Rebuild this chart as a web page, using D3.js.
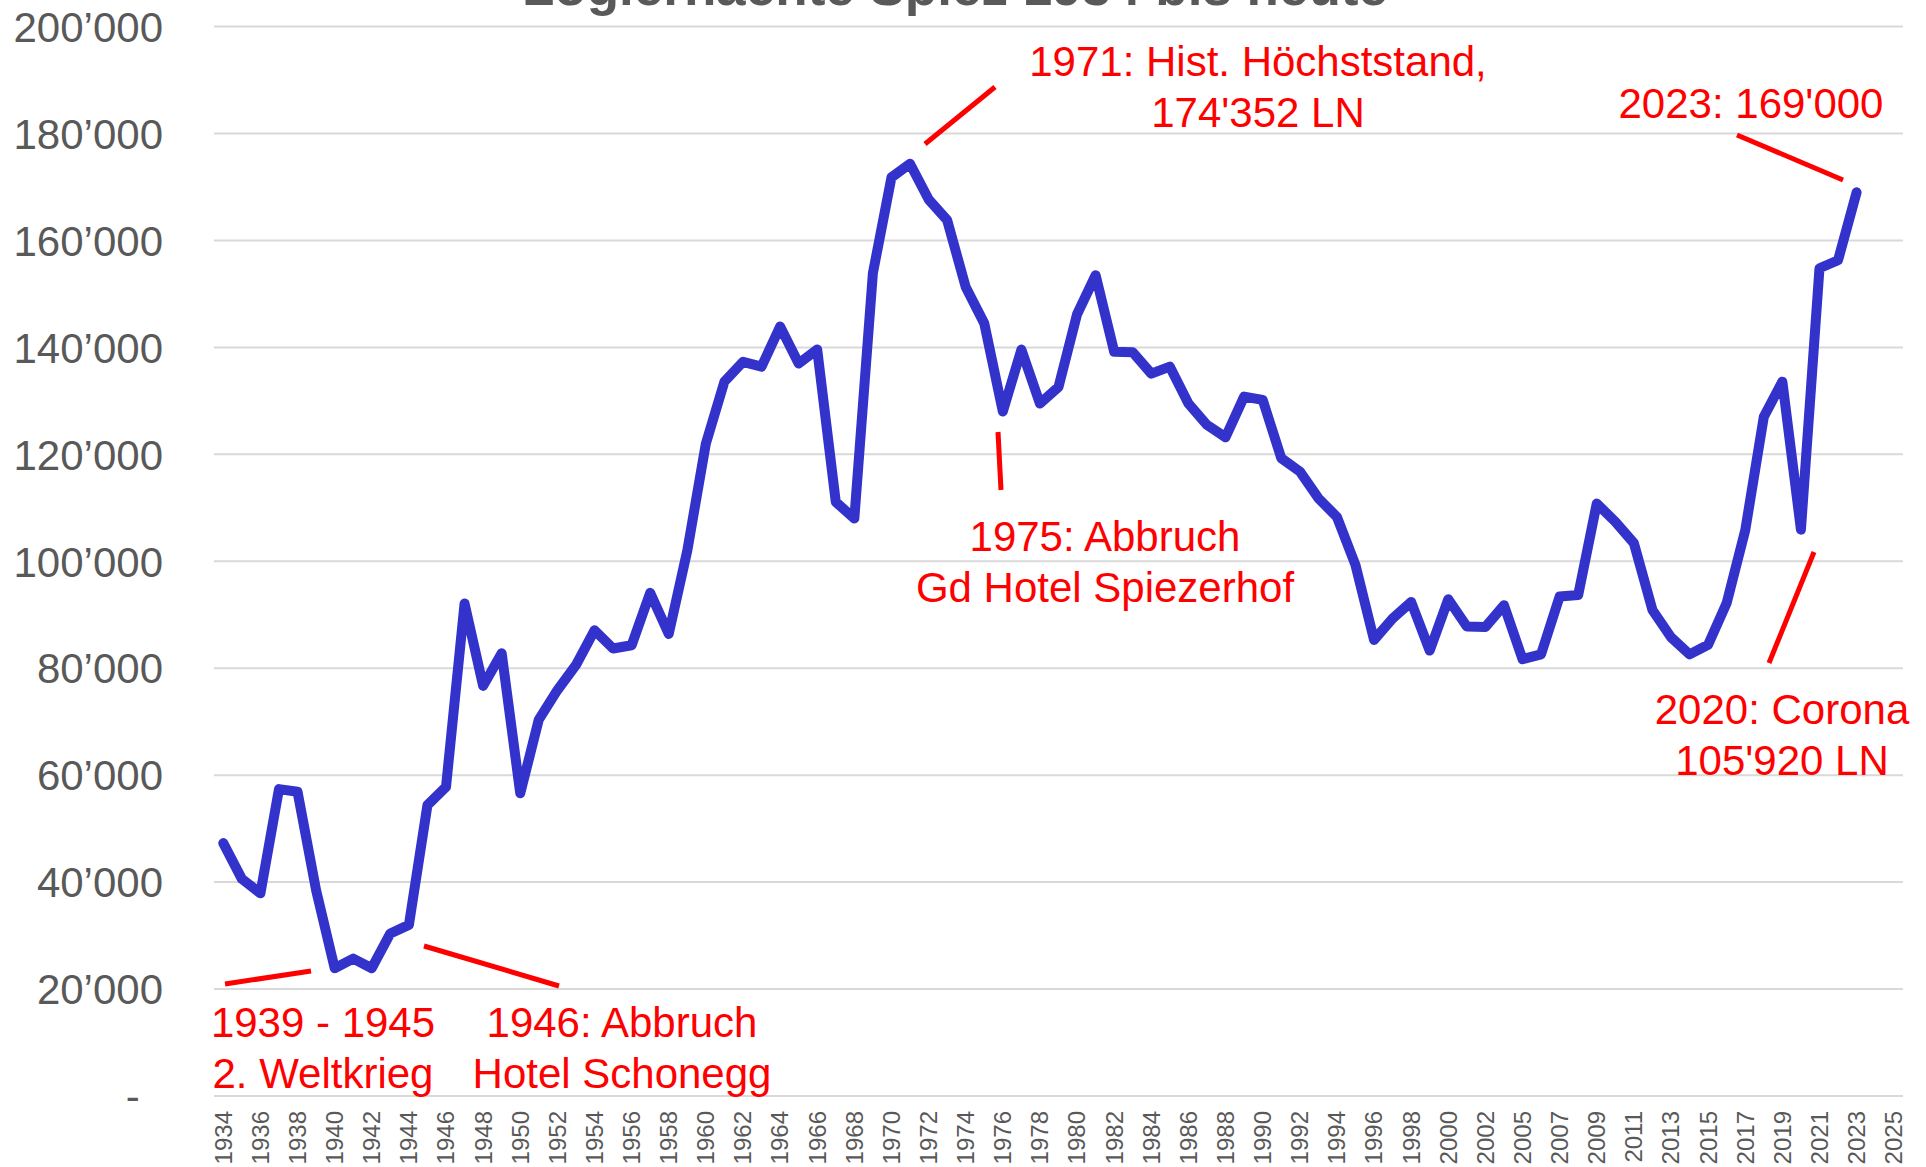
<!DOCTYPE html>
<html>
<head>
<meta charset="utf-8">
<script src="https://cdn.jsdelivr.net/npm/d3@7/dist/d3.min.js"></script>
<style>
  html, body { margin: 0; padding: 0; background: #fff; }
  svg { display: block; font-family: "Liberation Sans", Arial, sans-serif; }
</style>
</head>
<body>
<svg id="chart" width="1926" height="1167"></svg>
<script>
// ---- DATA ----
const titleText = "Logiernächte Spiez 1934 bis heute";

const categories = [
  "1934","1935","1936","1937","1938","1939","1940","1941","1942","1943",
  "1944","1945","1946","1947","1948","1949","1950","1951","1952","1953",
  "1954","1955","1956","1957","1958","1959","1960","1961","1962","1963",
  "1964","1965","1966","1967","1968","1969","1970","1971","1972","1973",
  "1974","1975","1976","1977","1978","1979","1980","1981","1982","1983",
  "1984","1985","1986","1987","1988","1989","1990","1991","1992","1993",
  "1994","1995","1996","1997","1998","1999","2000","2001","2002","2003",
  "2005","2006","2007","2008","2009","2010","2011","2012","2013","2014",
  "2015","2016","2017","2018","2019","2020","2021","2022","2023","2024",
  "2025"
];

const overnightStays = [
  47300, 40600, 37900, 57400, 56900, 38500, 23900, 25700, 23900, 30400,
  32000, 54400, 57800, 92100, 76700, 82800, 56600, 70400, 75900, 80600,
  87100, 83700, 84300, 94100, 86400, 102000, 122000, 133600, 137300, 136400,
  143900, 137000, 139600, 111100, 108000, 153900, 171800, 174352, 167700, 163800,
  151300, 144500, 128000, 139600, 129500, 132600, 146200, 153500, 139200, 139100,
  135100, 136400, 129500, 125500, 123200, 130800, 130200, 119300, 116800, 111800,
  108300, 99300, 85300, 89300, 92400, 83300, 92900, 87800, 87700, 91800,
  81700, 82600, 93400, 93700, 110800, 107400, 103400, 90900, 85800, 82600,
  84400, 92200, 105800, 127000, 133600, 105920, 154800, 156300, 169000, null,
  null
];

const yTicks = [0, 20000, 40000, 60000, 80000, 100000, 120000, 140000, 160000, 180000, 200000];

const annotations = [
  { lines: ["1971: Hist. Höchststand,", "174'352 LN"], cx: 1258, y0: 76 },
  { lines: ["2023: 169'000"], cx: 1751, y0: 118 },
  { lines: ["1975: Abbruch", "Gd Hotel Spiezerhof"], cx: 1105, y0: 551 },
  { lines: ["2020: Corona", "105'920 LN"], cx: 1782, y0: 724 },
  { lines: ["1939 - 1945", "2. Weltkrieg"], cx: 323, y0: 1037 },
  { lines: ["1946: Abbruch", "Hotel Schonegg"], cx: 622, y0: 1037 }
];

const pointerLines = [
  { x1: 995, y1: 87, x2: 925, y2: 144 },
  { x1: 1737, y1: 135, x2: 1843, y2: 180 },
  { x1: 998, y1: 432, x2: 1001, y2: 490 },
  { x1: 1814, y1: 552, x2: 1769, y2: 663 },
  { x1: 225, y1: 984, x2: 311, y2: 971 },
  { x1: 424, y1: 946, x2: 559, y2: 986 }
];

// ---- CHART ----
(function () {
const svg = d3.select("#chart");
const plotLeft = 214, plotRight = 1903, plotTop = 26.6, plotBottom = 1096;

const x = d3.scaleBand().domain(categories).range([plotLeft, plotRight]).padding(0);
const y = d3.scaleLinear().domain([0, 200000]).range([plotBottom, plotTop]);

const locale = d3.formatLocale({ decimal: ".", thousands: "\u2019", grouping: [3], currency: ["", ""] });
const fmt = locale.format(",");

// gridlines
svg.append("g").selectAll("line").data(yTicks).join("line")
  .attr("x1", plotLeft).attr("x2", plotRight)
  .attr("y1", d => y(d)).attr("y2", d => y(d))
  .attr("stroke", "#d9d9d9").attr("stroke-width", 2);

// y axis labels
const yAxis = d3.axisLeft(y).tickValues(yTicks).tickSize(0).tickPadding(0)
  .tickFormat(d => d === 0 ? "-\u00A0\u00A0" : fmt(d));
const gy = svg.append("g").attr("transform", "translate(163,0)").call(yAxis);
gy.select(".domain").remove();
gy.selectAll("text")
  .attr("font-size", 42).attr("fill", "#595959")
  .attr("font-family", "'Liberation Sans', Arial, sans-serif")
  .attr("x", 0).attr("dy", "0.35em");

// x axis labels
const xTickVals = categories.filter((d, i) => i % 2 === 0);
const xAxis = d3.axisBottom(x).tickValues(xTickVals).tickSize(0).tickPadding(0);
const gx = svg.append("g").attr("transform", "translate(0,1111)").call(xAxis);
gx.select(".domain").remove();
gx.selectAll("text")
  .attr("font-size", 24).attr("fill", "#595959")
  .attr("font-family", "'Liberation Sans', Arial, sans-serif")
  .attr("text-anchor", "end")
  .attr("transform", "rotate(-90)")
  .attr("x", 0).attr("y", 0).attr("dy", "0.35em");

// line
const series = categories.map((c, i) => ({ c, v: overnightStays[i] }));
const line = d3.line()
  .defined(d => d.v != null)
  .x(d => x(d.c) + x.bandwidth() / 2)
  .y(d => y(d.v));
svg.append("path").datum(series)
  .attr("d", line)
  .attr("fill", "none")
  .attr("stroke", "#3333CC")
  .attr("stroke-width", 10)
  .attr("stroke-linejoin", "round")
  .attr("stroke-linecap", "round");

// title (cut off at top, as in the original)
svg.append("text")
  .attr("x", 522).attr("y", 5)
  .attr("font-size", 53).attr("font-weight", "bold")
  .attr("fill", "#595959")
  .text(titleText);

// annotation pointer lines
svg.append("g").selectAll("line").data(pointerLines).join("line")
  .attr("x1", d => d.x1).attr("y1", d => d.y1)
  .attr("x2", d => d.x2).attr("y2", d => d.y2)
  .attr("stroke", "#FF0000").attr("stroke-width", 5);

// annotation text
const ag = svg.append("g");
annotations.forEach(a => {
  a.lines.forEach((t, i) => {
    ag.append("text")
      .attr("x", a.cx).attr("y", a.y0 + i * 50.5)
      .attr("text-anchor", "middle")
      .attr("font-size", 42).attr("fill", "#FF0000")
      .text(t);
  });
});
})();
</script>
</body>
</html>
